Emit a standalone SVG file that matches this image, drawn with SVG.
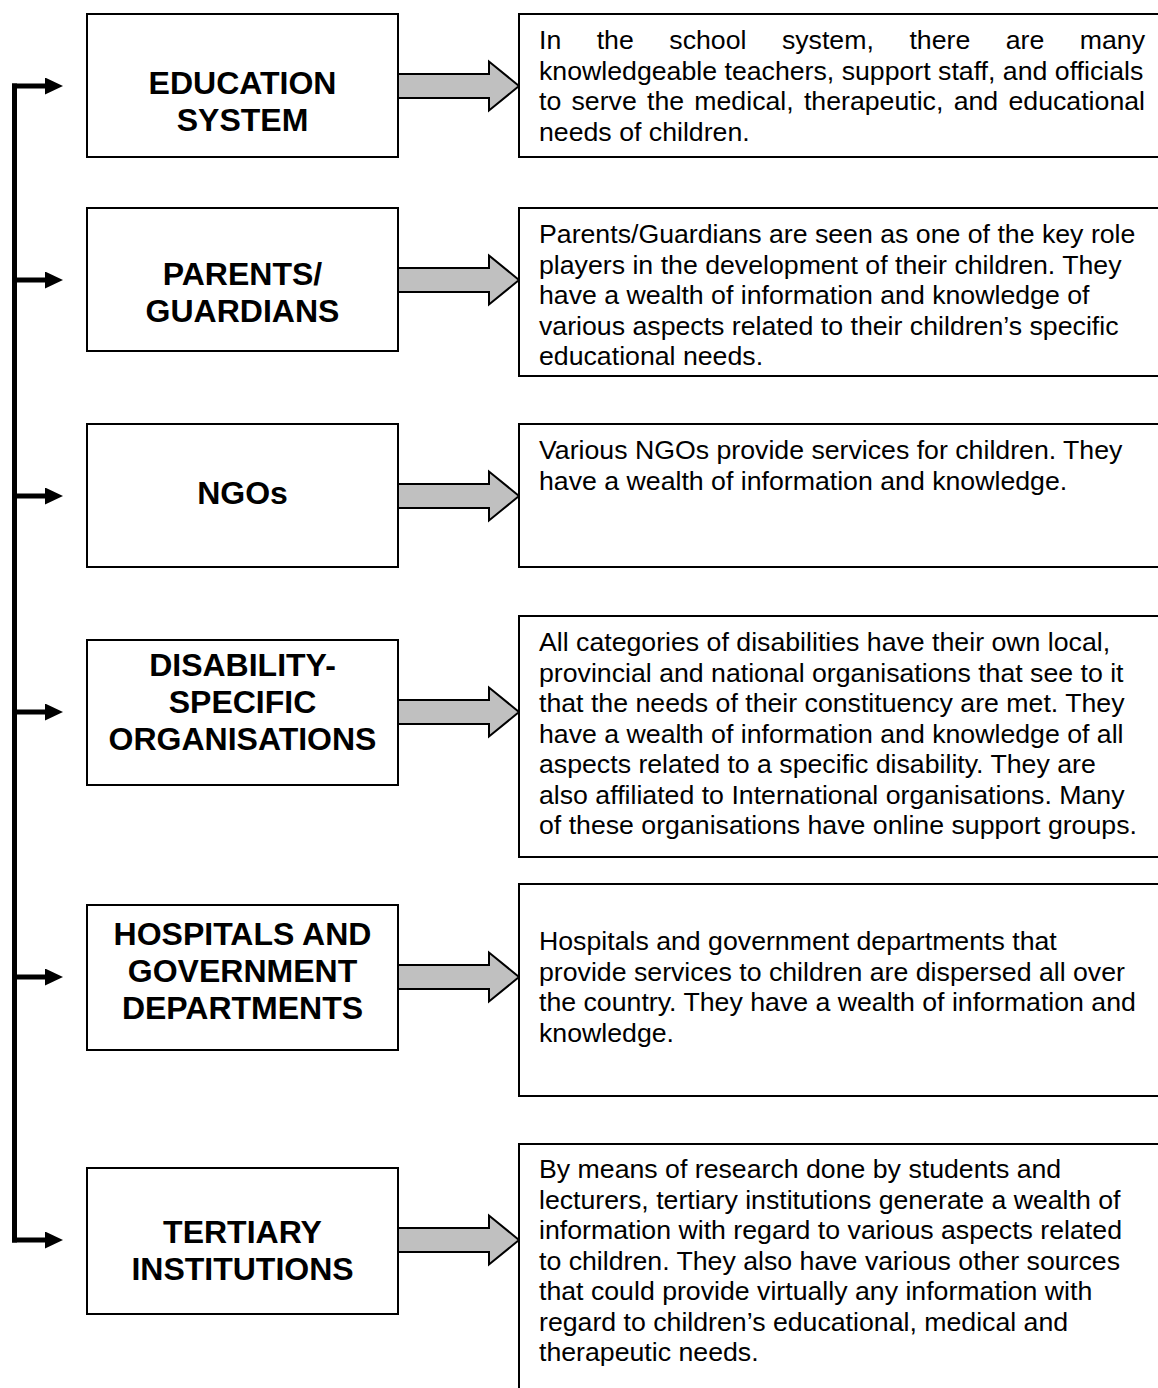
<svg xmlns="http://www.w3.org/2000/svg" width="1158" height="1388" viewBox="0 0 1158 1388">
  <style>
    .src { fill: #ffffff; stroke: #000000; stroke-width: 2; }
    .info { fill: #ffffff; stroke: #000000; stroke-width: 2; }
    .head { font-family: "Liberation Sans", Arial, sans-serif; font-weight: bold; font-size: 32px; fill: #000000; text-anchor: middle; }
    .body { font-family: "Liberation Sans", Arial, sans-serif; font-size: 26.7px; fill: #000000; }
    .block { fill: #c0c0c0; stroke: #000000; stroke-width: 2; stroke-linejoin: miter; }
    .spine { stroke: #000000; stroke-width: 5; fill: none; stroke-linecap: square; }
    .branch { stroke: #000000; stroke-width: 5; fill: none; marker-end: url(#tip); }
  </style>
  <defs>
    <marker id="tip" markerUnits="userSpaceOnUse" markerWidth="18" markerHeight="17" refX="0" refY="8.5" orient="auto">
      <path d="M0,0 L18,8.5 L0,17 Z" fill="#000000"/>
    </marker>
    <!-- block arrow drawn with its tip at (0,0), pointing right -->
    <path id="blockArrow" d="M-121,-12 H-30 V-24.5 L0,0 L-30,24.5 V12 H-121 Z"/>
  </defs>

  <rect width="1158" height="1388" fill="#ffffff"/>

  <!-- connectors: left spine with branches, and block arrows into the detail boxes -->
  <g id="connectors">
    <path class="spine" d="M14.5,86 V1240"/>
    <path class="branch" d="M12,86 H45"/>
    <path class="branch" d="M12,280 H45"/>
    <path class="branch" d="M12,496 H45"/>
    <path class="branch" d="M12,712 H45"/>
    <path class="branch" d="M12,977 H45"/>
    <path class="branch" d="M12,1240 H45"/>

    <use href="#blockArrow" class="block" x="519" y="86"/>
    <use href="#blockArrow" class="block" x="519" y="280"/>
    <use href="#blockArrow" class="block" x="519" y="496"/>
    <use href="#blockArrow" class="block" x="519" y="712"/>
    <use href="#blockArrow" class="block" x="519" y="977"/>
    <use href="#blockArrow" class="block" x="519" y="1240"/>
  </g>

  <!-- source boxes -->
  <g id="education-system">
    <rect class="src" x="87" y="14" width="311" height="143"/>
    <text class="head" x="242.5" y="94">EDUCATION</text>
    <text class="head" x="242.5" y="131">SYSTEM</text>
  </g>
  <g id="parents-guardians">
    <rect class="src" x="87" y="208" width="311" height="143"/>
    <text class="head" x="242.5" y="285">PARENTS/</text>
    <text class="head" x="242.5" y="322">GUARDIANS</text>
  </g>
  <g id="ngos">
    <rect class="src" x="87" y="424" width="311" height="143"/>
    <text class="head" x="242.5" y="504">NGOs</text>
  </g>
  <g id="disability-organisations">
    <rect class="src" x="87" y="640" width="311" height="145"/>
    <text class="head" x="242.5" y="676">DISABILITY-</text>
    <text class="head" x="242.5" y="713">SPECIFIC</text>
    <text class="head" x="242.5" y="750">ORGANISATIONS</text>
  </g>
  <g id="hospitals-government">
    <rect class="src" x="87" y="905" width="311" height="145"/>
    <text class="head" x="242.5" y="945">HOSPITALS AND</text>
    <text class="head" x="242.5" y="982">GOVERNMENT</text>
    <text class="head" x="242.5" y="1019">DEPARTMENTS</text>
  </g>
  <g id="tertiary-institutions">
    <rect class="src" x="87" y="1168" width="311" height="146"/>
    <text class="head" x="242.5" y="1243">TERTIARY</text>
    <text class="head" x="242.5" y="1280">INSTITUTIONS</text>
  </g>

  <!-- detail boxes -->
  <g id="education-system-detail">
    <rect class="info" x="519" y="14" width="660" height="143"/>
    <text class="body" y="49">
      <tspan x="539">In</tspan><tspan x="596.7">the</tspan><tspan x="669.3">school</tspan><tspan x="781.9">system,</tspan><tspan x="909.4">there</tspan><tspan x="1005.7">are</tspan><tspan x="1145" text-anchor="end">many</tspan>
    </text>
    <text class="body" x="539" y="79.5">knowledgeable teachers, support staff, and officials</text>
    <text class="body" y="110">
      <tspan x="539">to</tspan><tspan x="571.5">serve</tspan><tspan x="647">the</tspan><tspan x="694.3">medical,</tspan><tspan x="803.9">therapeutic,</tspan><tspan x="953.7">and</tspan><tspan x="1145" text-anchor="end">educational</tspan>
    </text>
    <text class="body" x="539" y="140.5">needs of children.</text>
  </g>
  <g id="parents-guardians-detail">
    <rect class="info" x="519" y="208" width="660" height="168"/>
    <text class="body" x="539" y="243">Parents/Guardians are seen as one of the key role</text>
    <text class="body" x="539" y="273.5">players in the development of their children. They</text>
    <text class="body" x="539" y="304">have a wealth of information and knowledge of</text>
    <text class="body" x="539" y="334.5">various aspects related to their children’s specific</text>
    <text class="body" x="539" y="365">educational needs.</text>
  </g>
  <g id="ngos-detail">
    <rect class="info" x="519" y="424" width="660" height="143"/>
    <text class="body" x="539" y="459">Various NGOs provide services for children. They</text>
    <text class="body" x="539" y="489.5">have a wealth of information and knowledge.</text>
  </g>
  <g id="disability-organisations-detail">
    <rect class="info" x="519" y="616" width="660" height="241"/>
    <text class="body" x="539" y="651">All categories of disabilities have their own local,</text>
    <text class="body" x="539" y="681.5">provincial and national organisations that see to it</text>
    <text class="body" x="539" y="712">that the needs of their constituency are met. They</text>
    <text class="body" x="539" y="742.5">have a wealth of information and knowledge of all</text>
    <text class="body" x="539" y="773">aspects related to a specific disability. They are</text>
    <text class="body" x="539" y="803.5">also affiliated to International organisations. Many</text>
    <text class="body" x="539" y="834">of these organisations have online support groups.</text>
  </g>
  <g id="hospitals-government-detail">
    <rect class="info" x="519" y="884" width="660" height="212"/>
    <text class="body" x="539" y="950">Hospitals and government departments that</text>
    <text class="body" x="539" y="980.5">provide services to children are dispersed all over</text>
    <text class="body" x="539" y="1011">the country. They have a wealth of information and</text>
    <text class="body" x="539" y="1041.5">knowledge.</text>
  </g>
  <g id="tertiary-institutions-detail">
    <rect class="info" x="519" y="1144" width="660" height="270"/>
    <text class="body" x="539" y="1178">By means of research done by students and</text>
    <text class="body" x="539" y="1208.5">lecturers, tertiary institutions generate a wealth of</text>
    <text class="body" x="539" y="1239">information with regard to various aspects related</text>
    <text class="body" x="539" y="1269.5">to children. They also have various other sources</text>
    <text class="body" x="539" y="1300">that could provide virtually any information with</text>
    <text class="body" x="539" y="1330.5">regard to children’s educational, medical and</text>
    <text class="body" x="539" y="1361">therapeutic needs.</text>
  </g>
</svg>
